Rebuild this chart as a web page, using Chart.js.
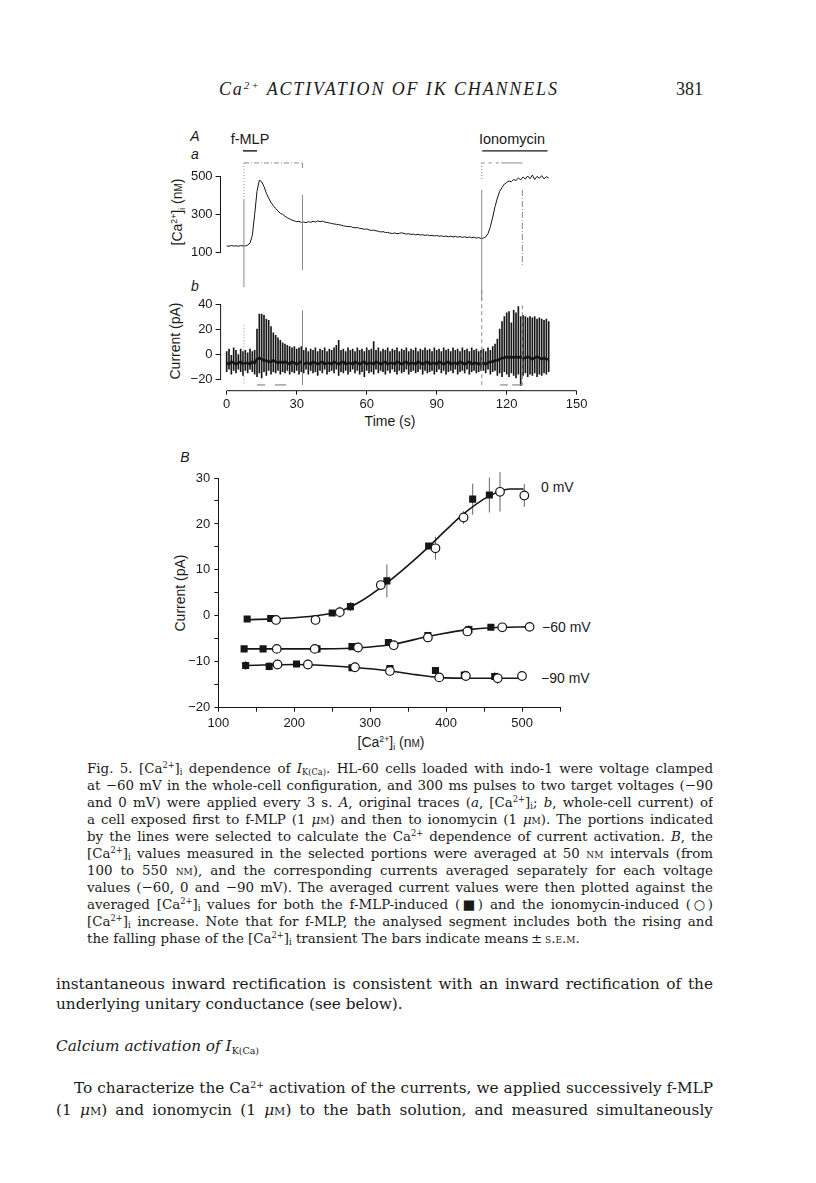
<!DOCTYPE html>
<html>
<head>
<meta charset="utf-8">
<script src="https://cdn.jsdelivr.net/npm/chart.js@4.4.0/dist/chart.umd.min.js"></script>
<style>
  html, body { margin: 0; padding: 0; background: #fff; }
  body { width: 816px; height: 1183px; position: relative; overflow: hidden; color: #1a1a1a; }
  canvas { position: absolute; }
  .t { position: absolute; white-space: nowrap; }
  .c { transform: translate(-50%, -50%); }
  .v { transform: translate(-50%, -50%) rotate(-90deg); }
  .sans { font-family: "Liberation Sans", Arial, sans-serif; }
  .serif { font-family: "Liberation Serif", "Times New Roman", serif; }
  sup { font-size: .62em; vertical-align: .55em; line-height: 0; }
  sub { font-size: .62em; vertical-align: -.3em; line-height: 0; }
  .sc { font-variant: small-caps; }
  .cap { position: absolute; left: 87px; width: 626px; font: 13.4px "DejaVu Serif", serif; }
  .cap div, .body div { height: 17px; line-height: 17px; text-align: justify; text-align-last: justify; overflow: hidden; }
  .cap div.last, .body div.last { text-align-last: left; }
  .body { position: absolute; left: 56px; width: 657px; font: 15.3px "DejaVu Serif", serif; }
  .body div { height: 20px; line-height: 20px; }
</style>
</head>
<body>

<div class="t serif" id="head" style="left:219px; top:79px; font-size:18px; font-style:italic;">Ca<sup>2+</sup> ACTIVATION OF IK CHANNELS</div>
<div class="t serif" style="left:676px; top:79px; font-size:18px;">381</div>

<div class="t sans c" style="left:195px; top:136px; font-size:14px; font-style:italic;">A</div>
<div class="t sans c" style="left:195px; top:154px; font-size:14px; font-style:italic;">a</div>
<div class="t sans c" style="left:195px; top:286px; font-size:14px; font-style:italic;">b</div>
<div class="t sans c" style="left:185px; top:457px; font-size:14px; font-style:italic;">B</div>
<div class="t sans c" style="left:250px; top:139px; font-size:14.5px;">f-MLP</div>
<div class="t sans c" style="left:512px; top:139px; font-size:14.5px;">Ionomycin</div>

<div class="t sans v" style="left:177px; top:212px; font-size:14px;">[Ca<sup>2+</sup>]<sub>i</sub> (n<span class="sc">m</span>)</div>
<div class="t sans v" style="left:175px; top:341px; font-size:14px;">Current (pA)</div>
<div class="t sans c" style="left:390px; top:421px; font-size:14px;">Time (s)</div>
<div class="t sans v" style="left:180px; top:593px; font-size:14px;">Current (pA)</div>
<div class="t sans c" style="left:391px; top:742px; font-size:14px;">[Ca<sup>2+</sup>]<sub>i</sub> (n<span class="sc">m</span>)</div>

<div class="t sans" style="left:541px; top:479px; font-size:14px;">0 mV</div>
<div class="t sans" style="left:542px; top:619px; font-size:14px;">&minus;60 mV</div>
<div class="t sans" style="left:541px; top:670px; font-size:14px;">&minus;90 mV</div>

<canvas id="chartCa" width="450" height="180" style="left:140px; top:120px;"></canvas>
<canvas id="chartCur" width="450" height="140" style="left:140px; top:290px;"></canvas>
<canvas id="chartB" width="440" height="290" style="left:140px; top:462px;"></canvas>

<div class="cap" style="top:760px;">
  <div>Fig. 5. [Ca<sup>2+</sup>]<sub>i</sub> dependence of <i>I</i><sub>K(Ca)</sub>. HL-60 cells loaded with indo-1 were voltage clamped</div>
  <div>at &minus;60 mV in the whole-cell configuration, and 300 ms pulses to two target voltages (&minus;90</div>
  <div>and 0 mV) were applied every 3 s. <i>A</i>, original traces (<i>a</i>, [Ca<sup>2+</sup>]<sub>i</sub>; <i>b</i>, whole-cell current) of</div>
  <div>a cell exposed first to f-MLP (1 <i>&mu;</i><span class="sc">m</span>) and then to ionomycin (1 <i>&mu;</i><span class="sc">m</span>). The portions indicated</div>
  <div>by the lines were selected to calculate the Ca<sup>2+</sup> dependence of current activation. <i>B</i>, the</div>
  <div>[Ca<sup>2+</sup>]<sub>i</sub> values measured in the selected portions were averaged at 50 <span class="sc">nm</span> intervals (from</div>
  <div>100 to 550 <span class="sc">nm</span>), and the corresponding currents averaged separately for each voltage</div>
  <div>values (&minus;60, 0 and &minus;90 mV). The averaged current values were then plotted against the</div>
  <div>averaged [Ca<sup>2+</sup>]<sub>i</sub> values for both the f-MLP-induced (&#9632;) and the ionomycin-induced (&#9675;)</div>
  <div>[Ca<sup>2+</sup>]<sub>i</sub> increase. Note that for f-MLP, the analysed segment includes both the rising and</div>
  <div class="last">the falling phase of the [Ca<sup>2+</sup>]<sub>i</sub> transient The bars indicate means&thinsp;&plusmn;&thinsp;<span class="sc">s.e.m.</span></div>
</div>

<div class="body" style="top:974px;">
  <div>instantaneous inward rectification is consistent with an inward rectification of the</div>
  <div class="last">underlying unitary conductance (see below).</div>
</div>
<div class="body" style="top:1036px;">
  <div class="last"><i>Calcium activation of I</i><sub>K(Ca)</sub></div>
</div>
<div class="body" style="top:1078px;">
  <div style="padding-left:18px;">To characterize the Ca<sup>2+</sup> activation of the currents, we applied successively f-MLP</div>
  <div style="margin-top:2px;">(1 <i>&mu;</i><span class="sc">m</span>) and ionomycin (1 <i>&mu;</i><span class="sc">m</span>) to the bath solution, and measured simultaneously</div>
</div>

<script>
"use strict";

// ---- panel A a: [Ca2+]i trace, one reading per second from t = 0 s
const caTrace = [
  135, 134, 137, 135, 136, 134, 137, 136, 135, 140,
  150, 190, 300, 420, 478, 470, 445, 410, 385, 362,
  345, 330, 318, 305, 300, 290, 282, 276, 270, 266,
  262, 264, 258, 260, 257, 262, 258, 264, 260, 266,
  262, 265, 260, 258, 255, 252, 250, 248, 246, 244,
  240, 238, 236, 237, 232, 230, 231, 227, 225, 222,
  224, 219, 216, 218, 214, 212, 208, 210, 205, 206,
  202, 200, 203, 199, 201, 204, 200, 197, 199, 195,
  197, 193, 196, 192, 194, 190, 193, 189, 191, 187,
  190, 186, 188, 184, 187, 183, 186, 182, 185, 181,
  184, 180, 183, 179, 182, 178, 181, 176, 179, 174,
  176, 182, 200, 235, 285, 340, 385, 420, 440, 458,
  466, 474, 470, 482, 476, 490, 480, 495, 484, 500,
  486, 505, 482, 498, 488, 502, 485, 496, 490
];
const caTicks = [100, 300, 500];

// ---- panel A b: whole-cell current, pulse peaks / troughs and holding level per second
const curHigh = [
  2, 4, -1, 5, 3, 0, 4, 2, 3, 1,
  4, 2, 3, 20, 32, 32, 31, 28, 27, 22,
  17, 15, 13, 11, 9, 8, 7, 6, 5, 6,
  4, 5, 6, 3, 5, 2, 4, 3, 5, 2,
  4, 3, 5, 2, 4, 3, 5, 7, 11, 3,
  4, 2, 5, 3, 4, 2, 5, 3, 4, 2,
  5, 3, 4, 10, 3, 5, 2, 4, 3, 5,
  2, 4, 3, 5, 2, 4, 3, 5, 2, 4,
  3, 5, 2, 4, 3, 5, 3, 4, 2, 5,
  3, 4, 2, 5, 3, 4, 2, 5, 3, 4,
  2, 5, 3, 4, 2, 5, 3, 4, 2, 3,
  4, 2, 5, 3, 6, 8, 12, 20, 26, 30,
  33, 34, 25, 35, 33, 38, 30, 31, 30, 29,
  30, 29, 30, 28, 29, 28, 27, 28, 26
];
const curLow = [
  -14, -12, -16, -13, -15, -12, -14, -17, -13, -15,
  -12, -14, -16, -18, -15, -19, -14, -17, -13, -16,
  -14, -15, -13, -16, -14, -15, -13, -16, -14, -15,
  -13, -16, -14, -15, -12, -16, -13, -15, -14, -17,
  -13, -15, -12, -16, -14, -13, -15, -12, -17, -14,
  -15, -13, -16, -14, -12, -15, -13, -16, -14, -18,
  -13, -15, -14, -16, -12, -15, -13, -14, -16, -13,
  -15, -12, -14, -16, -13, -15, -14, -12, -16, -14,
  -13, -15, -14, -12, -16, -13, -15, -14, -13, -16,
  -14, -12, -15, -13, -16, -14, -13, -15, -12, -16,
  -14, -13, -15, -12, -16, -14, -13, -15, -14, -13,
  -13, -15, -12, -16, -14, -13, -17, -15, -18, -14,
  -16, -18, -15, -17, -19, -16, -25, -17, -15, -18,
  -16, -17, -15, -18, -16, -17, -15, -16, -14
];
const curHold = [
  -7, -8, -6, -7, -8, -7, -6, -8, -7, -7,
  -8, -6, -7, -4, -3, -4, -5, -5, -6, -6,
  -5, -6, -7, -6, -7, -6, -7, -8, -6, -7,
  -8, -7, -6, -8, -7, -7, -8, -6, -7, -8,
  -7, -6, -8, -7, -7, -8, -6, -7, -8, -7,
  -6, -8, -7, -7, -8, -6, -7, -8, -7, -6,
  -8, -7, -7, -8, -6, -7, -8, -7, -6, -8,
  -7, -7, -8, -6, -7, -8, -7, -6, -8, -7,
  -7, -8, -6, -7, -8, -7, -6, -8, -7, -7,
  -8, -6, -7, -8, -7, -6, -8, -7, -7, -8,
  -6, -7, -8, -7, -6, -8, -7, -7, -8, -7,
  -7, -8, -7, -6, -6, -5, -5, -4, -3, -3,
  -2, -3, -2, -3, -2, -3, -2, -3, -3, -2,
  -3, -4, -3, -2, -3, -4, -3, -4, -4
];
const curTicks = [-20, 0, 20, 40];
const timeTicks = [0, 30, 60, 90, 120, 150];

// drug application (s) and analysed windows (s)
const fmlpBar = [7, 13];
const ionoBar = [109.5, 137.5];
const fmlpWin = [7.4, 32.5];
const ionoWin = [109.3, 126.7];

// ---- panel B: averaged current vs [Ca2+]i (f-MLP = squares, ionomycin = circles)
const sq0x = [138, 169, 250, 274, 322, 377, 435, 457];
const sq0y = [-0.7, -0.6, 0.6, 2.0, 7.6, 15.2, 25.4, 26.3];
const sq0e = [0.4, 0.3, 0.5, 1.0, 3.6, 0.6, 3.4, 3.8];
const ci0x = [176, 228, 260, 314, 386, 423, 471, 503];
const ci0y = [-0.9, -0.9, 0.8, 6.7, 14.7, 21.4, 27.0, 26.2];
const ci0e = [0.6, 0.3, 1.2, 0.8, 2.5, 1.4, 4.3, 2.5];

const sq60x = [134, 159, 230, 276, 324, 376, 430, 459];
const sq60y = [-7.2, -7.2, -7.2, -6.7, -5.8, -4.3, -3.0, -2.5];
const sq60e = [0.3, 0.3, 0.3, 0.4, 0.6, 0.8, 1.0, 0.5];
const ci60x = [177, 227, 284, 331, 376, 428, 474, 510];
const ci60y = [-7.2, -7.2, -6.9, -6.4, -4.7, -3.4, -2.5, -2.4];
const ci60e = [0.3, 0.3, 0.5, 0.5, 0.8, 1.0, 0.5, 0.6];

const sq90x = [136, 167, 203, 276, 326, 386, 424, 464];
const sq90y = [-10.8, -11.0, -10.5, -11.3, -11.5, -11.9, -12.9, -13.2];
const sq90e = [1.0, 0.9, 0.5, 0.8, 0.6, 0.5, 1.0, 1.0];
const ci90x = [178, 218, 280, 326, 391, 426, 468, 500];
const ci90y = [-10.6, -10.6, -11.2, -12.0, -13.4, -13.1, -13.6, -13.1];
const ci90e = [0.8, 1.0, 0.6, 1.0, 0.6, 0.8, 1.2, 0.8];

// fitted curves as drawn
const fit0x = [138, 180, 228, 260, 286, 320, 348, 377, 400, 423, 456, 484, 502];
const fit0y = [-0.85, -0.6, 0, 1.0, 3.0, 6.9, 10.7, 15, 18.7, 22.2, 26, 27.6, 27.6];
const fit60x = [134, 230, 280, 300, 330, 376, 405, 430, 460, 510];
const fit60y = [-7.2, -7.2, -7.0, -6.8, -6.2, -4.5, -3.6, -3.0, -2.6, -2.4];
const fit90x = [136, 200, 240, 276, 326, 360, 391, 430, 500];
const fit90y = [-10.8, -10.6, -10.8, -11.2, -12.0, -12.8, -13.4, -13.6, -13.6];

Chart.defaults.font.family = "'Liberation Sans', Arial, sans-serif";
Chart.defaults.color = "#1a1a1a";
Chart.defaults.animation = false;
Chart.defaults.plugins.legend.display = false;
Chart.defaults.plugins.tooltip.enabled = false;

const INK = "#161616";
const GREY = "#8a8a8a";

function pts(xs, ys) {
  return xs.map((x, i) => ({ x: x, y: ys[i] }));
}
function minus(v) {
  return v < 0 ? "\u2212" + Math.abs(v) : String(v);
}
function seg(ctx, x1, y1, x2, y2) {
  ctx.beginPath();
  ctx.moveTo(x1, y1);
  ctx.lineTo(x2, y2);
  ctx.stroke();
}

// ----------------------------------------------------------------- A a
const caAnnot = {
  id: "caAnnot",
  afterDatasetsDraw(chart) {
    const { ctx, scales: { x, y } } = chart;
    const X = v => x.getPixelForValue(v);
    const Y = v => y.getPixelForValue(v);
    ctx.save();
    ctx.strokeStyle = INK;
    ctx.lineWidth = 1.4;
    seg(ctx, X(fmlpBar[0]), Y(631), X(fmlpBar[1]), Y(631));
    seg(ctx, X(ionoBar[0]), Y(631), X(ionoBar[1]), Y(631));

    ctx.strokeStyle = GREY;
    ctx.lineWidth = 1;
    ctx.setLineDash([5, 2, 1, 2]);
    seg(ctx, X(fmlpWin[0]), Y(568), X(fmlpWin[1]), Y(568));
    seg(ctx, X(fmlpWin[1]), Y(568), X(fmlpWin[1]), Y(540));
    ctx.setLineDash([3, 4]);
    seg(ctx, X(ionoWin[0]), Y(568), X(ionoWin[1] - 9), Y(568));
    ctx.setLineDash([1, 2]);
    seg(ctx, X(fmlpWin[0]), Y(568), X(fmlpWin[0]), Y(375));
    seg(ctx, X(ionoWin[0]), Y(568), X(ionoWin[0]), Y(480));
    ctx.setLineDash([]);
    seg(ctx, X(ionoWin[1] - 9), Y(568), X(ionoWin[1]), Y(568));
    seg(ctx, X(fmlpWin[0]), Y(375), X(fmlpWin[0]), Y(-79));
    seg(ctx, X(fmlpWin[1]), Y(401), X(fmlpWin[1]), Y(10));
    seg(ctx, X(ionoWin[0]), Y(427), X(ionoWin[0]), Y(-147));
    ctx.setLineDash([6, 2, 1, 2]);
    seg(ctx, X(ionoWin[1]), Y(427), X(ionoWin[1]), Y(36));
    ctx.restore();
  }
};

new Chart(document.getElementById("chartCa"), {
  type: "line",
  data: {
    datasets: [{
      data: caTrace.map((v, i) => ({ x: i, y: v })),
      borderColor: INK,
      borderWidth: 1,
      pointRadius: 0,
      tension: 0,
      clip: false
    }]
  },
  options: {
    responsive: false,
    layout: { padding: { top: 56, right: 13.3, bottom: 47.3, left: 0 } },
    scales: {
      x: { type: "linear", min: -2.6, max: 150, display: false },
      y: {
        min: 100, max: 500,
        afterFit: s => { s.width = 80.6; },
        afterBuildTicks: s => { s.ticks = caTicks.map(v => ({ value: v })); },
        border: { color: INK, width: 1 },
        grid: { drawOnChartArea: false, tickLength: 5, color: INK },
        ticks: { font: { size: 13 }, padding: 3 }
      }
    }
  },
  plugins: [caAnnot]
});

// ----------------------------------------------------------------- A b
const curAnnot = {
  id: "curAnnot",
  afterDatasetsDraw(chart) {
    const { ctx, chartArea, scales: { x, y } } = chart;
    const X = v => x.getPixelForValue(v);
    const Y = v => y.getPixelForValue(v);
    ctx.save();
    // offset axes
    ctx.strokeStyle = INK;
    ctx.lineWidth = 1;
    seg(ctx, chartArea.left, Y(-20), chartArea.left, Y(40));
    seg(ctx, X(0), chartArea.bottom, X(150), chartArea.bottom);

    ctx.strokeStyle = GREY;
    ctx.setLineDash([1, 2]);
    seg(ctx, X(fmlpWin[0]), Y(23), X(fmlpWin[0]), Y(-24.5));
    ctx.setLineDash([]);
    seg(ctx, X(fmlpWin[1]), Y(35), X(fmlpWin[1]), Y(-24.5));
    ctx.setLineDash([4, 3]);
    seg(ctx, X(ionoWin[0]), Y(51), X(ionoWin[0]), Y(-24.5));
    seg(ctx, X(ionoWin[1]), Y(39), X(ionoWin[1]), Y(-24.5));
    ctx.setLineDash([]);
    ctx.lineWidth = 1.2;
    [[13, 16.5], [20.7, 25.5], [117.2, 120.5], [122.3, 126.7]].forEach(d => {
      seg(ctx, X(d[0]), Y(-24.5), X(d[1]), Y(-24.5));
    });
    ctx.restore();
  }
};

new Chart(document.getElementById("chartCur"), {
  type: "bar",
  data: {
    datasets: [
      {
        type: "line",
        data: curHold.map((v, i) => ({ x: i, y: v })),
        borderColor: INK,
        borderWidth: 2.5,
        pointRadius: 0,
        tension: 0
      },
      {
        data: curHigh.map((v, i) => ({ x: i, y: [curLow[i], v] })),
        backgroundColor: INK,
        barThickness: 1,
        grouped: false
      }
    ]
  },
  options: {
    responsive: false,
    layout: { padding: { top: 14, right: 13.3, bottom: 0, left: 0 } },
    scales: {
      x: {
        type: "linear", min: -2.6, max: 150, offset: false,
        afterFit: s => { s.height = 39.3; },
        afterBuildTicks: s => { s.ticks = timeTicks.map(v => ({ value: v })); },
        border: { display: false },
        grid: { drawOnChartArea: false, tickLength: 4, color: INK, offset: false },
        ticks: { font: { size: 13 }, padding: 2, autoSkip: false, maxRotation: 0 }
      },
      y: {
        min: -29.1, max: 40,
        afterFit: s => { s.width = 80.6; },
        afterBuildTicks: s => { s.ticks = curTicks.map(v => ({ value: v })); },
        border: { display: false },
        grid: { drawOnChartArea: false, tickLength: 5, color: INK },
        ticks: { font: { size: 13 }, padding: 3, callback: v => minus(v) }
      }
    }
  },
  plugins: [curAnnot]
});

// ----------------------------------------------------------------- B
const semBars = {
  id: "semBars",
  beforeDatasetsDraw(chart) {
    const { ctx, scales: { x, y } } = chart;
    ctx.save();
    ctx.strokeStyle = "#555";
    ctx.lineWidth = 0.9;
    chart.data.datasets.forEach(ds => {
      if (!ds.sem) return;
      ds.data.forEach((p, i) => {
        const e = ds.sem[i];
        if (!e) return;
        const px = x.getPixelForValue(p.x);
        seg(ctx, px, y.getPixelForValue(p.y + e), px, y.getPixelForValue(p.y - e));
      });
    });
    ctx.restore();
  }
};

function fitLine(xs, ys) {
  return {
    data: pts(xs, ys), showLine: true, borderColor: INK, borderWidth: 1.6,
    pointRadius: 0, cubicInterpolationMode: "monotone", order: 3
  };
}
function squares(xs, ys, es) {
  return {
    data: pts(xs, ys), sem: es, pointStyle: "rect", pointRadius: 5,
    backgroundColor: INK, borderColor: INK, borderWidth: 0, order: 2
  };
}
function circles(xs, ys, es) {
  return {
    data: pts(xs, ys), sem: es, pointStyle: "circle", pointRadius: 4.3,
    backgroundColor: "#fff", borderColor: INK, borderWidth: 1.2, order: 1
  };
}

new Chart(document.getElementById("chartB"), {
  type: "scatter",
  data: {
    datasets: [
      fitLine(fit0x, fit0y), fitLine(fit60x, fit60y), fitLine(fit90x, fit90y),
      squares(sq0x, sq0y, sq0e), squares(sq60x, sq60y, sq60e), squares(sq90x, sq90y, sq90e),
      circles(ci0x, ci0y, ci0e), circles(ci60x, ci60y, ci60e), circles(ci90x, ci90y, ci90e)
    ]
  },
  options: {
    responsive: false,
    layout: { padding: { top: 16, right: 20, bottom: 0, left: 0 } },
    scales: {
      x: {
        min: 100, max: 550,
        afterFit: s => { s.height = 44.3; },
        border: { color: INK, width: 1 },
        grid: { drawOnChartArea: false, tickLength: 4, color: INK },
        ticks: {
          stepSize: 50, autoSkip: false, maxRotation: 0, padding: 4,
          font: { size: 13 },
          callback: v => (v % 100 === 0 ? String(v) : "")
        }
      },
      y: {
        min: -20, max: 30,
        afterFit: s => { s.width = 78.3; },
        border: { color: INK, width: 1 },
        grid: { drawOnChartArea: false, tickLength: 4, color: INK },
        ticks: {
          stepSize: 5, autoSkip: false, padding: 4,
          font: { size: 13 },
          callback: v => (v % 10 === 0 ? minus(v) : "")
        }
      }
    }
  },
  plugins: [semBars]
});

// stretch the running head to its printed width
const head = document.getElementById("head");
const gaps = head.textContent.length - 1;
head.style.letterSpacing = ((338 - head.getBoundingClientRect().width) / gaps) + "px";

// shrink any printed line that would not fit on one line
document.querySelectorAll(".cap div, .body div").forEach(line => {
  const lh = parseFloat(getComputedStyle(line).lineHeight);
  let size = parseFloat(getComputedStyle(line).fontSize);
  while (line.scrollHeight > lh + 2 && size > 8) {
    size -= 0.2;
    line.style.fontSize = size + "px";
  }
});
</script>
</body>
</html>
